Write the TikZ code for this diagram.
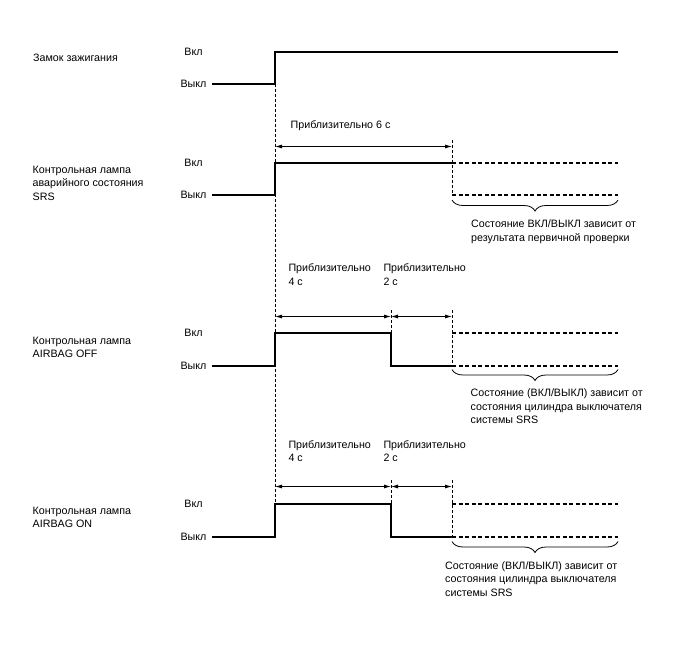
\documentclass[tikz,border=0pt]{standalone}
\usepackage{fontspec}
\setmainfont{Liberation Sans}
\usetikzlibrary{arrows.meta,decorations.pathreplacing}

\begin{document}
\begin{tikzpicture}[x=1pt,y=-1pt,font=\fontsize{10.7}{13.3}\selectfont,txt/.style={inner sep=0pt,align=left,anchor=base west},lvl/.style={inner sep=0pt},sig/.style={line width=1.8pt},opt/.style={line width=1.3pt,dash pattern=on 4pt off 2.5pt},guide/.style={line width=0.6pt,dash pattern=on 3pt off 2pt},dim/.style={line width=0.8pt,{Latex[length=7pt,width=4pt]}-{Latex[length=7pt,width=4pt]}},brc/.style={line width=0.8pt,decorate,decoration={brace,mirror,amplitude=11pt}}]
\useasboundingbox (0,0) rectangle (688,658);
% ignition
\node[txt] (ign) at (33,61.7) {Замок зажигания};
\node[lvl] (ignon) at (193.5,51.5) {Вкл};\node[lvl] (ignoff) at (193.5,83.5) {Выкл};
\draw[sig] (212,84) -- (275,84) -- (275,52) -- (618,52);
\draw[guide] (275,84) -- (275,537);
% SRS lamp
\node[txt] (srs) at (32.5,200) {Контрольная лампа\\аварийного состояния\\SRS};
\node[lvl] (srson) at (193.5,162.7) {Вкл};\node[lvl] (srsoff) at (193.5,195) {Выкл};
\node[txt] (srst) at (290.5,129) {Приблизительно 6 с};
\coordinate (s0) at (275,146.5);\coordinate (s6) at (452,146.5);
\draw[dim] (s0) -- (s6);
\draw[guide] (452,140) -- (452,195);
\draw[sig] (212,195) -- (275,195) -- (275,163) -- (452,163);
\draw[opt] (452,163) -- (618,163);\draw[opt] (452,195) -- (618,195);
\draw[brc] (452,200) -- (618,200);
\node[txt] (srsn) at (471,241) {Состояние ВКЛ/ВЫКЛ зависит от\\результата первичной проверки};
% AIRBAG OFF
\node[txt] (off) at (32.5,357.3) {Контрольная лампа\\AIRBAG OFF};
\node[lvl] (offon) at (193.5,332.7) {Вкл};\node[lvl] (offoff) at (193.5,365.5) {Выкл};
\node[txt] (offt1) at (288.3,285) {Приблизительно\\4 с};
\node[txt] (offt2) at (383.3,285) {Приблизительно\\2 с};
\coordinate (f0) at (275,316.5);\coordinate (f4) at (391,316.5);\coordinate (f6) at (452,316.5);
\draw[dim] (f0) -- (f4);\draw[dim] (f4) -- (f6);
\draw[guide] (391,310) -- (391,333);\draw[guide] (452,310) -- (452,366);
\draw[sig] (212,366) -- (275,366) -- (275,333) -- (391,333) -- (391,366) -- (452,366);
\draw[opt] (452,333) -- (618,333);\draw[opt] (452,366) -- (618,366);
\draw[brc] (452,369.5) -- (618,369.5);
\node[txt] (offn) at (470.5,423.3) {Состояние (ВКЛ/ВЫКЛ) зависит от\\состояния цилиндра выключателя\\системы SRS};
% AIRBAG ON
\node[txt] (on) at (32.5,527.3) {Контрольная лампа\\AIRBAG ON};
\node[lvl] (onon) at (193.5,504) {Вкл};\node[lvl] (onoff) at (193.5,536.7) {Выкл};
\node[txt] (ont1) at (288.3,461.5) {Приблизительно\\4 с};
\node[txt] (ont2) at (383.3,461.5) {Приблизительно\\2 с};
\coordinate (n0) at (275,486.5);\coordinate (n4) at (391,486.5);\coordinate (n6) at (452,486.5);
\draw[dim] (n0) -- (n4);\draw[dim] (n4) -- (n6);
\draw[guide] (391,480) -- (391,504);\draw[guide] (452,480) -- (452,537);
\draw[sig] (212,537) -- (275,537) -- (275,504) -- (391,504) -- (391,537) -- (452,537);
\draw[opt] (452,504) -- (618,504);\draw[opt] (452,537) -- (618,537);
\draw[brc] (452,541.5) -- (618,541.5);
\node[txt] (onn) at (445,596) {Состояние (ВКЛ/ВЫКЛ) зависит от\\состояния цилиндра выключателя\\системы SRS};
\end{tikzpicture}
\end{document}
